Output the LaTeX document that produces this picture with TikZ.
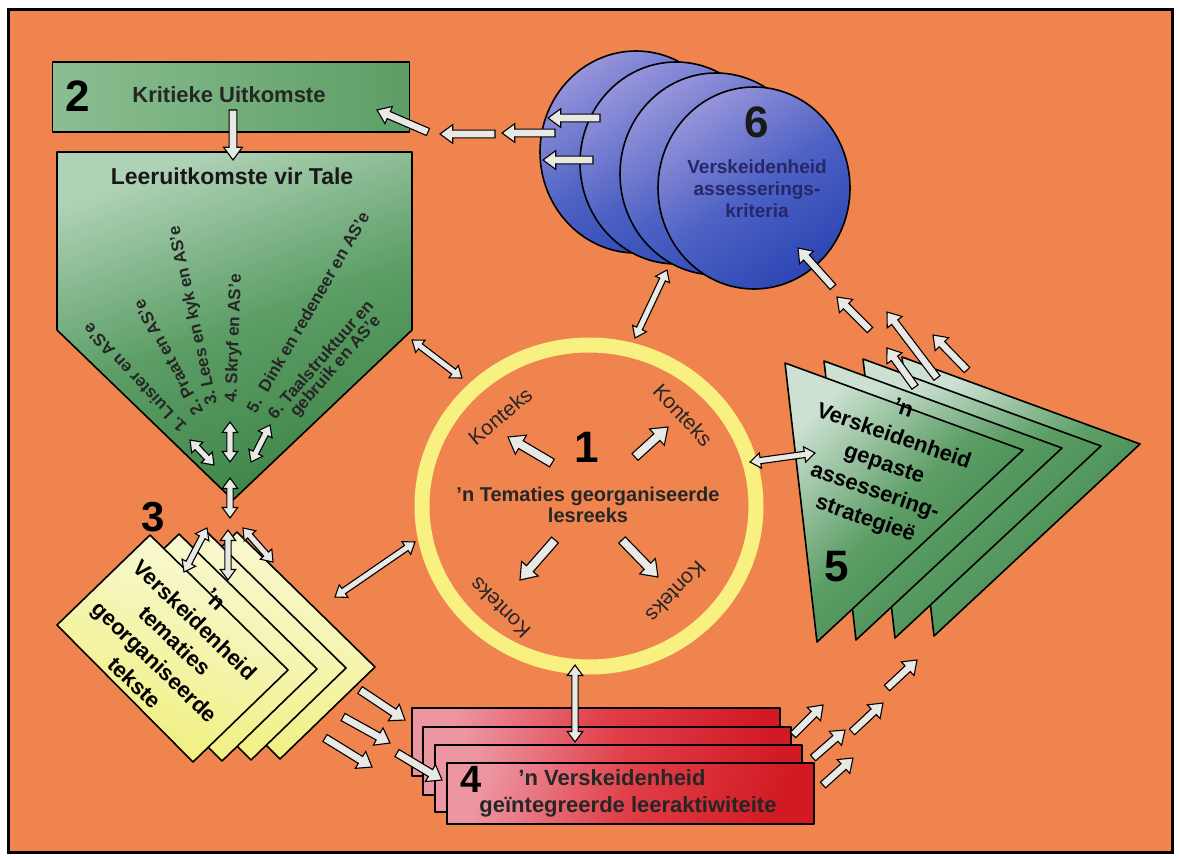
\documentclass[tikz,border=0pt]{standalone}
\usepackage{fontspec}
\setmainfont{Liberation Sans}
\usetikzlibrary{calc}
\definecolor{bgor}{RGB}{239,132,78}
\definecolor{ringy}{RGB}{248,240,128}
\definecolor{grnL}{RGB}{175,210,182}
\definecolor{grnB}{RGB}{140,190,145}
\definecolor{grnM}{RGB}{92,158,102}
\definecolor{grnD}{RGB}{62,132,72}
\definecolor{triL}{RGB}{205,225,210}
\definecolor{yelL}{RGB}{248,248,215}
\definecolor{yelD}{RGB}{240,240,125}
\definecolor{redL}{RGB}{236,150,162}
\definecolor{redM}{RGB}{224,62,72}
\definecolor{redD}{RGB}{210,26,36}
\definecolor{bluL}{RGB}{150,148,218}
\definecolor{bluM}{RGB}{78,98,196}
\definecolor{bluD}{RGB}{44,70,180}
\definecolor{navy}{RGB}{38,38,105}
\definecolor{arrf}{RGB}{232,232,228}
\tikzset{
  barrow/.style={draw=black, fill=arrf, line width=1.1pt, line join=miter, miter limit=4},
  shp/.style={draw=black, line width=1.6pt, line join=round},
  grnbox/.style={shp, rectangle, left color=grnB, right color=grnM},
  pent/.style={shp, top color=grnL, bottom color=grnD, middle color=grnM, shading angle=20},
  tri/.style={shp, top color=triL, bottom color=grnD, middle color=grnM, shading angle=45},
  dia/.style={shp, top color=yelL, bottom color=yelD, shading angle=-20},
  redb/.style={shp, top color=redL, bottom color=redD, middle color=redM, shading angle=70},
  blu/.style={shp, top color=bluL, bottom color=bluD, middle color=bluM, shading angle=35},
  bigno/.style={font=\fontsize{44}{44}\selectfont\bfseries, inner sep=0pt},
  lbl/.style={font=\fontsize{22}{29}\selectfont\bfseries, align=center, inner sep=0pt},
  fan/.style={font=\fontsize{17}{19}\selectfont\bfseries, anchor=west, inner sep=1pt, text=black!85},
  kon/.style={font=\fontsize{21}{21}\selectfont, text=black!85, inner sep=0pt},
}
% single block arrow between two named coordinates
\newcommand\sarr[3][1]{%
  \pgfmathsetlengthmacro\aW{4.5pt*#1}%
  \pgfmathsetlengthmacro\aH{11pt*#1}%
  \pgfmathsetlengthmacro\aL{15pt*#1}%
  \coordinate (hH) at ($(#3)!\aL!(#2)$);
  \draw[barrow] ($(#2)!\aW!90:(#3)$) -- ($(hH)!\aW!-90:(#2)$) -- ($(hH)!\aH!-90:(#2)$) -- (#3)
     -- ($(hH)!\aH!90:(#2)$) -- ($(hH)!\aW!90:(#2)$) -- ($(#2)!\aW!-90:(#3)$) -- cycle;}
% double block arrow
\newcommand\darr[3][1]{%
  \pgfmathsetlengthmacro\aW{4.5pt*#1}%
  \pgfmathsetlengthmacro\aH{11pt*#1}%
  \pgfmathsetlengthmacro\aL{15pt*#1}%
  \coordinate (hA) at ($(#2)!\aL!(#3)$);
  \coordinate (hB) at ($(#3)!\aL!(#2)$);
  \draw[barrow] (#2) -- ($(hA)!\aH!90:(#3)$) -- ($(hA)!\aW!90:(#3)$) -- ($(hB)!\aW!-90:(#2)$)
     -- ($(hB)!\aH!-90:(#2)$) -- (#3) -- ($(hB)!\aH!90:(#2)$) -- ($(hB)!\aW!90:(#2)$)
     -- ($(hA)!\aW!-90:(#3)$) -- ($(hA)!\aH!-90:(#3)$) -- cycle;}
\newcommand\arrS[4][1]{\coordinate (#2-s) at (#3); \coordinate (#2-e) at (#4); \sarr[#1]{#2-s}{#2-e}}
\newcommand\arrD[4][0.7]{\coordinate (#2-s) at (#3); \coordinate (#2-e) at (#4); \darr[#1]{#2-s}{#2-e}}
\begin{document}
\begin{tikzpicture}[x=1pt,y=-1pt]
\useasboundingbox (0,0) rectangle (1180,859);
\fill[white] (0,0) rectangle (1180,859);
\draw[line width=3pt, fill=bgor] (8,10) rectangle (1172,852);

% ring 1
\coordinate (c1) at (589,506);
\draw[line width=15pt, ringy] (c1) ellipse [x radius=167, y radius=161];

% circles 6
\draw[blu] (636,152) ellipse [x radius=96, y radius=101];
\draw[blu] (676,163) ellipse [x radius=96, y radius=101];
\draw[blu] (716,174) ellipse [x radius=96, y radius=101];
\coordinate (c6) at (754,188);
\draw[blu] (c6) ellipse [x radius=96, y radius=101];

% box 2
\node[grnbox, minimum width=357pt, minimum height=70pt] (b2) at (231,97) {};

% pentagon
\draw[pent] (57,152) -- (412,152) -- (412,330) -- (233,500) -- (57,330) -- cycle;

% triangles 5
\foreach \i in {3,2,1,0}
  \draw[tri, shift={(\i*39,-\i*2)}] (785,363) -- (1023,450) -- (817,642) -- cycle;

% diamonds 3
\foreach \i in {3,2,1,0}
  \draw[dia, shift={(\i*29,-\i*1)}] (150,535) -- (288,670) -- (193,762) -- (57,625) -- cycle;

% red boxes 4
\draw[redb] (412,708) rectangle (780,776);
\draw[redb] (423,727) rectangle (791,795);
\draw[redb] (435,745) rectangle (802,812);
\draw[redb] (447,763) rectangle (814,824);

% ---- texts
\node[bigno] (n2) at (78,96) {2};
\node[font=\fontsize{22}{24}\selectfont\bfseries, text=black!85] (t2) at (229,95) {Kritieke Uitkomste};
\node[font=\fontsize{23}{24}\selectfont\bfseries, text=black!90] (tLU) at (232,176) {Leeruitkomste vir Tale};

\node[fan, rotate=133] (f1) at (184,431) {1.\ Luister en AS'e};
\node[fan, rotate=118] (f2) at (199,415) {2.\ Praat en AS'e};
\node[fan, rotate=102] (f3) at (213,406) {3.\ Lees en kyk en AS'e};
\node[fan, rotate=88]  (f4) at (232,404) {4.\ Skryf en AS'e};
\node[fan, rotate=60]  (f5) at (250,412) {5.\ \ Dink en redeneer en AS'e};
\node[fan, rotate=49]  (f6) at (270,417) {6.\ Taalstruktuur en};
\node[fan, rotate=49]  (f6b) at (293,416) {gebruik en AS'e};

\node[bigno] (n1) at (587,447) {1};
\node[font=\fontsize{20}{21}\selectfont\bfseries, align=center, text=black!85] (t1) at (588,505) {'n Tematies georganiseerde\\lesreeks};
\node[kon, rotate=40]  (k1) at (500,416) {Konteks};
\node[kon, rotate=-47] (k2) at (683,415) {Konteks};
\node[kon, rotate=135] (k3) at (500,608) {Konteks};
\node[kon, rotate=226] (k4) at (676,592) {Konteks};

\node[bigno, text=black!90] (n6) at (757,122) {6};
\node[font=\fontsize{19}{22}\selectfont\bfseries, align=center, text=navy] (t6) at (757,189) {Verskeidenheid\\assesserings-\\kriteria};

\node[lbl, rotate=-19] (t5) at (884,465) {'n\\Verskeidenheid\\gepaste\\assessering-\\strategieë};
\node[bigno] (n5) at (837,567) {5};

\node[lbl, rotate=-44] (t3) at (175,641) {'n\\Verskeidenheid\\tematies\\georganiseerde\\tekste};
\node[bigno, font=\fontsize{42}{42}\selectfont\bfseries] (n3) at (153,517) {3};

\node[bigno, font=\fontsize{38}{38}\selectfont\bfseries] (n4) at (471,779) {4};
\node[font=\fontsize{22}{24}\selectfont\bfseries, text=black!85] (t4a) at (612,778) {'n Verskeidenheid};
\node[font=\fontsize{22}{24}\selectfont\bfseries, text=black!85] (t4b) at (628,807) {geïntegreerde leeraktiwiteite};

% ---- arrows
% centre arrows
\arrS{ka}{552,463}{508,437}
\arrS{kb}{635,457}{668,427}
\arrS{kc}{555,540}{520,580}
\arrS{kd}{622,540}{658,577}
% 6 -> 2
\arrS[0.85]{sa}{600,118}{548,118}
\arrS[0.85]{sb}{593,160}{543,160}
\arrS[0.85]{sc}{555,133}{502,133}
\arrS[0.85]{sd}{495,134}{440,134}
\arrS[0.85]{se}{428,132}{377,110}
% 2 -> pentagon
\arrS[0.85]{sf}{233,110}{233,160}
% 5 -> 6
\arrS[0.85]{ta}{833,287}{798,248}
\arrS[0.85]{tb}{870,330}{837,297}
\arrS[0.85]{tc}{937,378}{887,312}
\arrS[0.85]{td}{915,387}{887,348}
\arrS[0.85]{te}{967,370}{933,335}
% 3 -> 4
\arrS[0.9]{ra}{360,690}{405,720}
\arrS[0.9]{rb}{343,717}{390,743}
\arrS[0.9]{rc}{325,738}{372,767}
\arrS[0.9]{rd}{397,753}{442,780}
% 4 -> 5
\arrS[0.85]{ua}{793,735}{823,705}
\arrS[0.85]{ub}{813,758}{845,730}
\arrS[0.85]{uc}{823,785}{853,758}
\arrS[0.85]{ud}{852,732}{883,703}
\arrS[0.85]{ue}{887,688}{917,660}
% double arrows
\arrD{da}{190,440}{214,465}
\arrD{db}{230,422}{230,462}
\arrD{dc}{270,425}{251,462}
\arrD{dd}{230,478}{230,518}
\arrD{de}{207,528}{184,572}
\arrD{df}{228,530}{228,580}
\arrD{dg}{243,528}{273,562}
\arrD{dh}{412,340}{462,378}
\arrD{di}{335,597}{415,542}
\arrD{dj}{667,270}{635,338}
\arrD{dk}{750,462}{815,453}
\arrD{dl}{575,665}{575,742}
\end{tikzpicture}
\end{document}
